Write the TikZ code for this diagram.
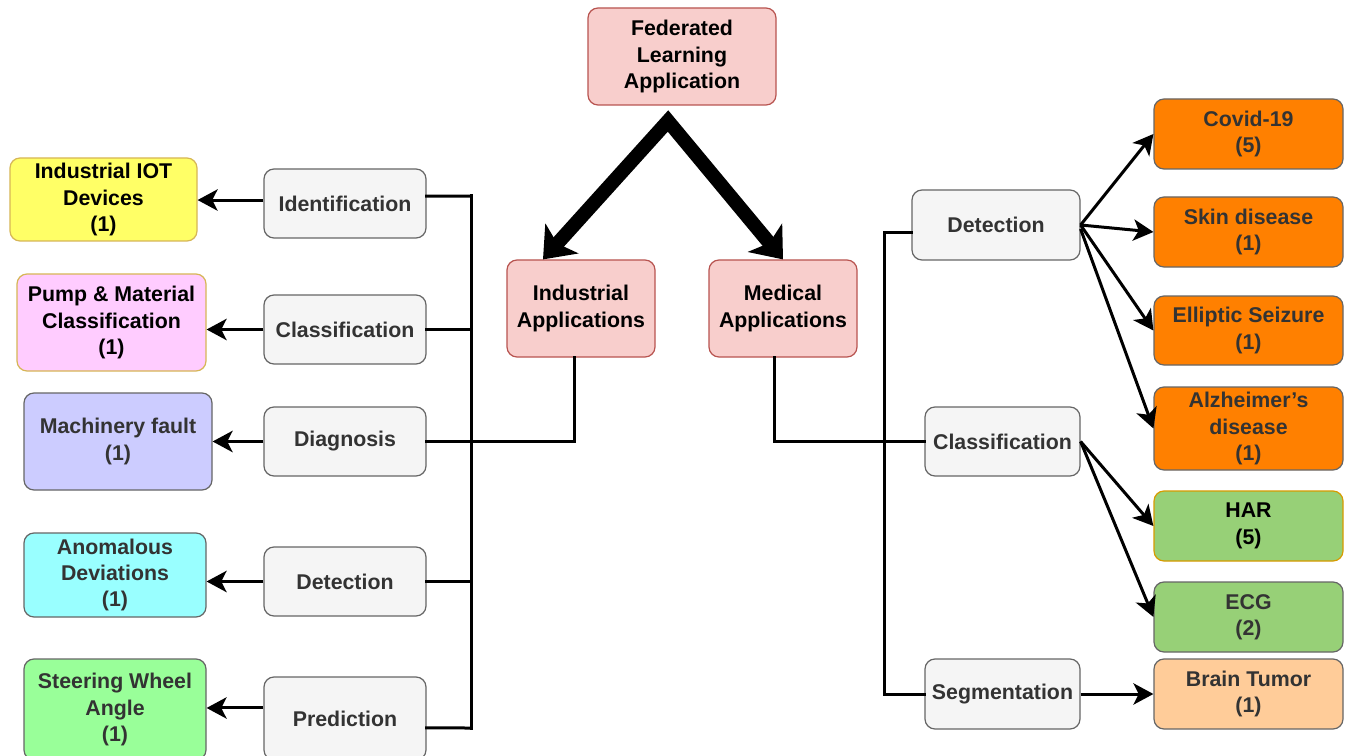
\documentclass[tikz,border=0pt]{standalone}
\usepackage{fontspec}
\setmainfont{Liberation Sans}
\usetikzlibrary{arrows.meta}
\definecolor{pinkF}{HTML}{F8CECC}\definecolor{pinkS}{HTML}{B85450}
\definecolor{greyF}{HTML}{F5F5F5}\definecolor{greyS}{HTML}{666666}
\definecolor{txtG}{HTML}{333333}
\definecolor{yelF}{HTML}{FFFF66}\definecolor{yelS}{HTML}{D6B656}
\definecolor{magF}{HTML}{FFCCFF}
\definecolor{lavF}{HTML}{CCCCFF}
\definecolor{cyaF}{HTML}{99FFFF}
\definecolor{grnF}{HTML}{99FF99}
\definecolor{orgF}{HTML}{FF8000}
\definecolor{gr2F}{HTML}{97D077}\definecolor{harS}{HTML}{D79B00}
\definecolor{pchF}{HTML}{FFCC99}
\newcommand\mkbox[7]{%
  \pgfmathsetmacro\mbxX{(#2+#4)/2}\pgfmathsetmacro\mbxY{(#3+#5)/2}%
  \pgfmathsetmacro\mbxW{(#4-#2)*0.75}\pgfmathsetmacro\mbxH{(#5-#3)*0.75}%
  \node[base,#6,minimum width=\mbxW pt,minimum height=\mbxH pt] (#1) at (\mbxX,\mbxY) {#7};}
\begin{document}
\begin{tikzpicture}[x=0.75pt,y=-0.75pt,
  font=\fontsize{16}{19.8}\selectfont\bfseries,
  base/.style={rounded corners=7.5pt,draw,line width=0.9pt,inner sep=0pt,align=center},
  pinkbox/.style={fill=pinkF,draw=pinkS,text=black},
  greybox/.style={fill=greyF,draw=greyS,text=txtG},
  conn/.style={line width=2.25pt,line cap=rect},
  arr/.style={line width=2.25pt,-{Stealth[length=15pt,width=16pt,inset=4pt]}},
  bigarr/.style={line width=10.5pt,line join=miter,
    {Stealth[length=21pt,width=33pt,inset=5pt]}-{Stealth[length=21pt,width=33pt,inset=5pt]}}]
\useasboundingbox (0,0) rectangle (1350,756);
\clip (0,0) rectangle (1350,756);
\fill[white] (0,0) rectangle (1350,756);
% top
\mkbox{fed}{588}{8}{776}{105}{pinkbox}{Federated\\Learning\\Application}
\mkbox{ind}{507}{260}{655}{357}{pinkbox}{Industrial\\Applications}
\mkbox{med}{709}{260}{857}{357}{pinkbox}{Medical\\Applications}
% left grey
\mkbox{ident}{264}{169}{426}{238}{greybox}{Identification}
\mkbox{lcls}{264}{295}{426}{364}{greybox}{Classification}
\mkbox{diag}{264}{407}{426}{476}{greybox}{Diagnosis}
\mkbox{ldet}{264}{547}{426}{616}{greybox}{Detection}
\mkbox{pred}{264}{677}{426}{760}{greybox}{Prediction}
% left colour
\mkbox{iot}{10}{158}{197}{241}{fill=yelF,draw=yelS,text=black}{Industrial IOT\\Devices\\(1)}
\mkbox{pump}{17}{274}{206}{371}{fill=magF,draw=yelS,text=black}{Pump \& Material\\Classification\\(1)}
\mkbox{mach}{24}{393}{212}{490}{fill=lavF,draw=greyS,text=txtG}{Machinery fault\\(1)}
\mkbox{anom}{24}{533}{206}{617}{fill=cyaF,draw=greyS,text=txtG}{Anomalous\\Deviations\\(1)}
\mkbox{steer}{24}{659}{206}{760}{fill=grnF,draw=greyS,text=txtG}{Steering Wheel\\Angle\\(1)}
% right grey
\mkbox{rdet}{912}{190}{1080}{260}{greybox}{Detection}
\mkbox{rcls}{925}{407}{1080}{476}{greybox}{Classification}
\mkbox{seg}{925}{659}{1080}{729}{greybox}{Segmentation}
% right colour
\mkbox{covid}{1154}{99}{1343}{169}{fill=orgF,draw=greyS,text=txtG}{Covid-19\\(5)}
\mkbox{skin}{1154}{197}{1343}{267}{fill=orgF,draw=greyS,text=txtG}{Skin disease\\(1)}
\mkbox{ell}{1154}{296}{1343}{365}{fill=orgF,draw=greyS,text=txtG}{Elliptic Seizure\\(1)}
\mkbox{alz}{1154}{387}{1343}{470}{fill=orgF,draw=greyS,text=txtG}{Alzheimer’s\\disease\\(1)}
\mkbox{har}{1154}{491}{1343}{561}{fill=gr2F,draw=harS,text=black}{HAR\\(5)}
\mkbox{ecg}{1154}{582}{1343}{652}{fill=gr2F,draw=greyS,text=txtG}{ECG\\(2)}
\mkbox{brain}{1154}{659}{1343}{729}{fill=pchF,draw=greyS,text=txtG}{Brain Tumor\\(1)}
% big arrows
\coordinate (apex) at (668,121);
\draw[bigarr] ([xshift=-28.5pt]ind.north) -- (apex) -- (med.north);
% left bus
\coordinate (lbt) at (471,196);
\coordinate (lbb) at (471,728);
\draw[conn] (lbt) -- (lbb);
\draw[conn] ([yshift=5.6pt]ident.east) -- (lbt);
\draw[conn] (lcls.east) -- (lcls.east -| lbt);
\draw[conn] (ldet.east) -- (ldet.east -| lbt);
\draw[conn] ([yshift=-7.1pt]pred.east) -- (lbb);
\draw[conn] ([xshift=-5.25pt]ind.south) |- (diag.east);
% left arrows
\path ([yshift=2.6pt]ident.west) coordinate (a1);
\draw[arr] (a1) -- (a1 -| iot.east);
\draw[arr] (lcls.west) -- (lcls.west -| pump.east);
\draw[arr] (diag.west) -- (diag.west -| mach.east);
\draw[arr] (ldet.west) -- (ldet.west -| anom.east);
\path ([yshift=7.9pt]pred.west) coordinate (a5);
\draw[arr] (a5) -- (a5 -| steer.east);
% right bus
\coordinate (rbt) at (884,233);
\coordinate (rbb) at (884,694);
\draw[conn] (rbt) -- (rbb);
\draw[conn] (rbt) -- (rbt -| rdet.west);
\draw[conn] ([xshift=-6.75pt]med.south) |- (rcls.west);
\draw[conn] (rbb) -- (seg.west);
% right arrows
\draw[arr] (rdet.east) -- (covid.west);
\draw[arr] (rdet.east) -- (skin.west);
\draw[arr] (rdet.east) -- (ell.west);
\draw[arr] ([yshift=-3pt]rdet.east) -- (alz.west);
\draw[arr] (rcls.east) -- (har.west);
\draw[arr] (rcls.east) -- (ecg.west);
\draw[arr] (seg.east) -- (brain.west);
\end{tikzpicture}
\end{document}
